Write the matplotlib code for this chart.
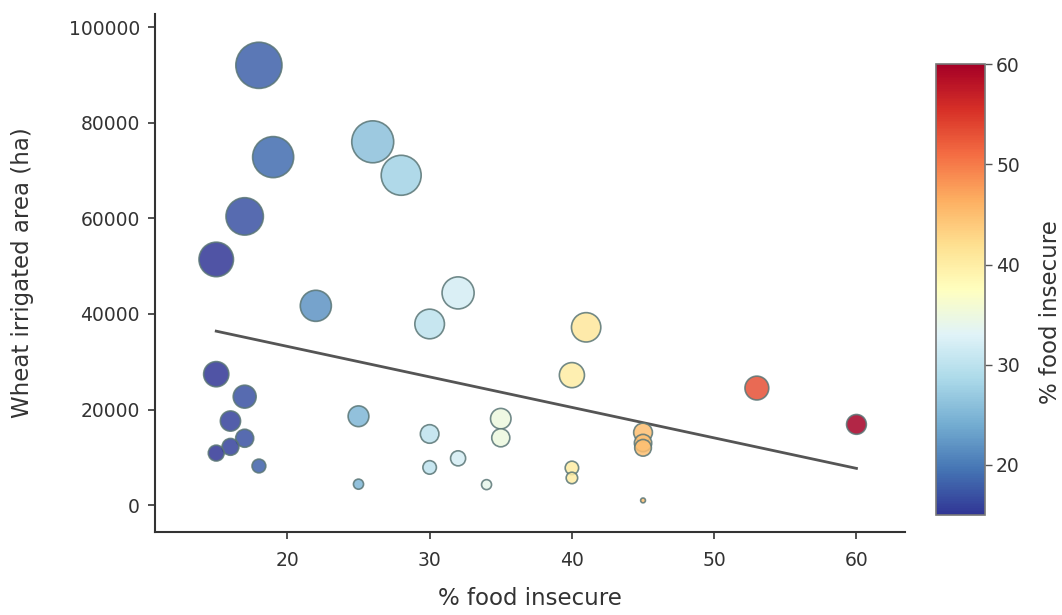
import numpy as np
import matplotlib
matplotlib.use("Agg")
import matplotlib.pyplot as plt
from matplotlib import cm, colors

# % food insecure (x) and wheat irrigated area in ha (y)
food_insecure = [18, 19, 17, 15, 26, 28, 22, 32, 30, 41, 40, 15, 17, 16, 17, 16, 15, 18,
                 25, 25, 30, 30, 32, 34, 35, 35, 40, 40, 53, 60, 45, 45, 45, 45]
irrigated_area = [92000, 72800, 60400, 51400, 76000, 69000, 41700, 44400, 37900, 37200,
                  27200, 27400, 22700, 17600, 14000, 12200, 10900, 8200, 18600, 4400,
                  14900, 7900, 9800, 4300, 18100, 14100, 7800, 5700, 24500, 16900,
                  15200, 13000, 12000, 1000]

# fitted trend line end points
trend_x = [15, 60]
trend_y = [36400, 7700]

x = np.array(food_insecure)
y = np.array(irrigated_area)

plt.rcParams["font.family"] = ["DejaVu Sans"]
fig = plt.figure(figsize=(10.62, 6.15), dpi=100)
ax = fig.add_axes([0.146, 0.135, 0.706, 0.842])

norm = colors.Normalize(vmin=15, vmax=60)
cmap = plt.get_cmap("RdYlBu_r")

ax.plot(trend_x, trend_y, color="#555555", lw=2, zorder=1)
sc = ax.scatter(x, y, s=y * 0.012, c=x, cmap=cmap, norm=norm, alpha=0.85,
                edgecolors="#5a7676", linewidths=1.2, zorder=2)

ax.set_xlim(10.7, 63.4)
ax.set_ylim(-5600, 102700)
ax.set_xticks([20, 30, 40, 50, 60])
ax.set_yticks([0, 20000, 40000, 60000, 80000, 100000])
ax.spines["top"].set_visible(False)
ax.spines["right"].set_visible(False)
for s in ["left", "bottom"]:
    ax.spines[s].set_color("#333333")
    ax.spines[s].set_linewidth(1.5)
ax.tick_params(axis="both", direction="out", length=5, width=1.2, color="#333333",
               labelcolor="#333333", labelsize=13.5)
ax.tick_params(axis="y", pad=6)
ax.tick_params(axis="x", pad=9)
ax.set_xlabel("% food insecure", fontsize=16.5, color="#333333", labelpad=12)
ax.set_ylabel("Wheat irrigated area (ha)", fontsize=16.5, color="#333333", labelpad=25)

cax = fig.add_axes([0.8814, 0.1626, 0.0461, 0.733])
sm = cm.ScalarMappable(norm=norm, cmap=cmap)
cb = fig.colorbar(sm, cax=cax, ticks=[20, 30, 40, 50, 60])
cb.outline.set_edgecolor("#777777")
cb.outline.set_linewidth(1.2)
cax.tick_params(length=5, width=1, color="#555555", labelsize=13.5, labelcolor="#333333",
                pad=3)
cax.set_ylabel("% food insecure", fontsize=16.5, color="#333333", labelpad=14, y=0.45)

fig.savefig("out.png", dpi=100)
